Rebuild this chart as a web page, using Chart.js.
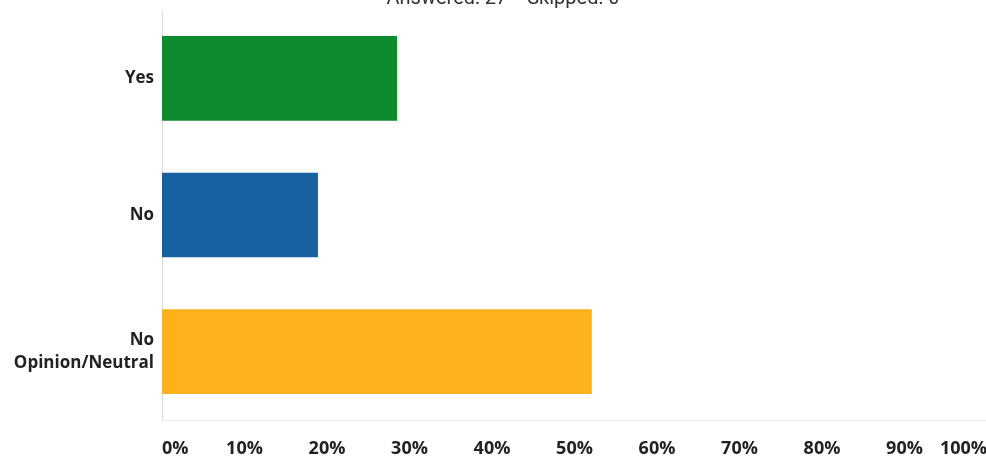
<!DOCTYPE html>
<html>
<head>
<meta charset="utf-8">
<script src="https://cdn.jsdelivr.net/npm/chart.js@4"></script>
<style>
  html, body { margin: 0; padding: 0; background: #fff; overflow: hidden; }
  #wrap { position: relative; width: 986px; height: 461px; overflow: hidden; }
  #title { position: absolute; top: -15px; left: 0; width: 1006px; text-align: center;
           font: 20px Roboto, sans-serif; color: #333; white-space: pre; }
  canvas { position: absolute; left: 0; top: 0; }
</style>
</head>
<body>
<div id="wrap">
  <canvas id="chart" width="990" height="461"></canvas>
  <div id="title">Answered: 27    Skipped: 0</div>
</div>
<script>
var categories = ['Yes', 'No', ['No', 'Opinion/Neutral']];
var percents = [28.5, 18.9, 52.1];
var barColors = ['#0d8a2d', '#1761a0', '#fdb21c'];
var tickLabels = ['0%', '10%', '20%', '30%', '40%', '50%', '60%', '70%', '80%', '90%', '100%'];

new Chart(document.getElementById('chart'), {
    type: 'bar',
    data: {
        labels: categories,
        datasets: [{
            data: percents,
            backgroundColor: barColors,
            barPercentage: 0.62,
            categoryPercentage: 1
        }]
    },
    options: {
        indexAxis: 'y',
        responsive: false,
        animation: false,
        layout: { padding: { top: 10, bottom: 0, left: 0, right: 3 } },
        plugins: { legend: { display: false }, tooltip: { enabled: false } },
        scales: {
            x: {
                min: 0,
                max: 100,
                grid: { display: false, drawTicks: false },
                border: { color: '#ececec' },
                afterFit: function (s) {
                    s.height = 41;
                    s.paddingLeft = 0;
                    s.paddingRight = 0;
                },
                ticks: {
                    stepSize: 10,
                    align: 'inner',
                    padding: 18,
                    color: '#222',
                    font: { family: 'Open Sans', size: 18, weight: 'bold' },
                    callback: function (v, i) { return tickLabels[i]; }
                }
            },
            y: {
                grid: { display: false, drawTicks: false },
                border: { color: '#dcdcdc' },
                afterFit: function (s) {
                    s.width = 162;
                    s.paddingTop = 0;
                    s.paddingBottom = 0;
                },
                ticks: {
                    padding: 8,
                    color: '#222',
                    font: { family: 'Open Sans', size: 17, weight: 'bold', lineHeight: 1.35 }
                }
            }
        }
    }
});
</script>
</body>
</html>
